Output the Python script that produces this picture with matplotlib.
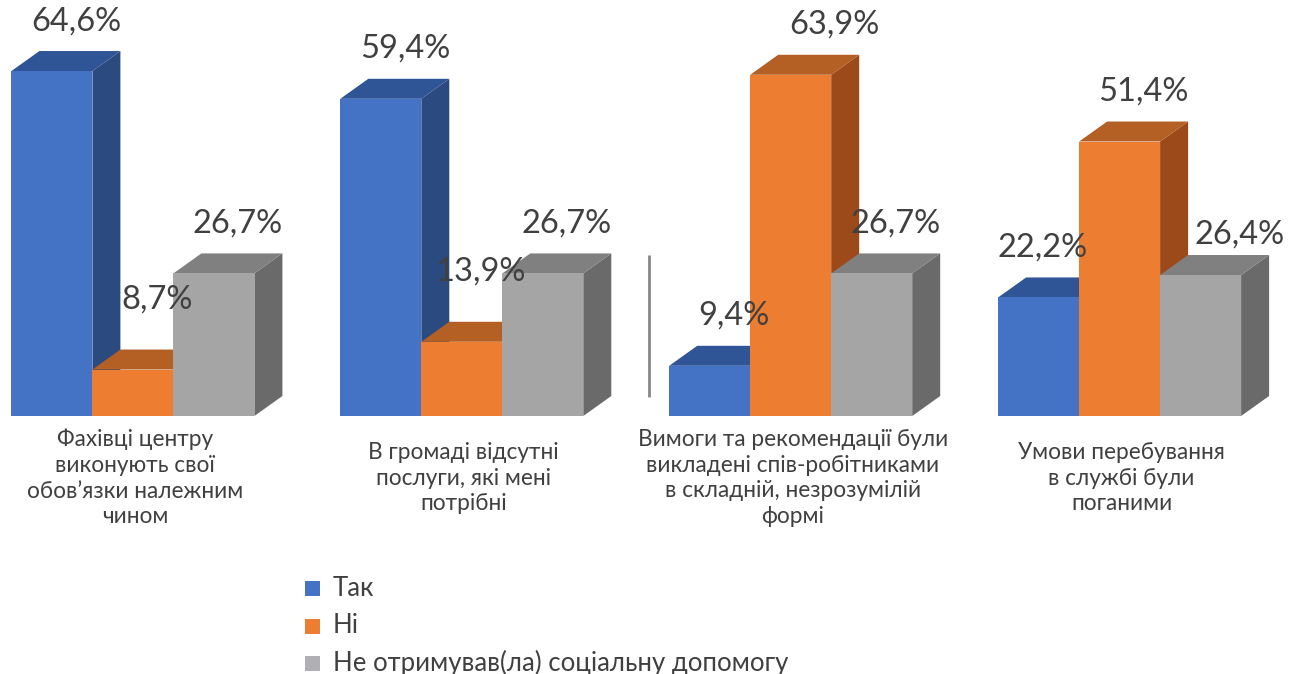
import numpy as np
import matplotlib.pyplot as plt
from matplotlib.patches import Polygon, Rectangle

plt.rcParams['font.family'] = ['Lato', 'DejaVu Sans']

# data
categories = [
    "Фахівці центру\nвиконують свої\nобов’язки належним\nчином",
    "В громаді відсутні\nпослуги, які мені\nпотрібні",
    "Вимоги та рекомендації були\nвикладені спів-робітниками\nв складній, незрозумілій\nформі",
    "Умови перебування\nв службі були\nпоганими",
]
series_names = ["Так", "Ні", "Не отримував(ла) соціальну допомогу"]
tak = [64.6, 59.4, 9.4, 22.2]
ni = [8.7, 13.9, 63.9, 51.4]
ne_otrymuvav = [26.7, 26.7, 26.7, 26.4]

front = ["#4472C4", "#ED7D31", "#A5A5A5"]
top_c = ["#2F5597", "#B45F24", "#808080"]
side_c = ["#2B4A80", "#9C4A1A", "#6A6A6A"]
legend_c = ["#4472C4", "#ED7D31", "#B0B0B4"]
txt = "#404040"

# small manual nudges (pixels) for labels that the source placed off the default spot
nudge = {(1, 0): (0, -20), (1, 1): (-5, -20), (1, 2): (20, 0),
         (0, 3): (-20, 0), (2, 3): (15, 10)}

W, H = 1298, 674
fig = plt.figure(figsize=(W / 100, H / 100), dpi=100)
ax = fig.add_axes([0, 0, 1, 1])

px_x = 328.9   # pixels per group
px_y = 5.34    # pixels per percent
x0 = 132.9
base = 416
ax.set_xlim(-x0 / px_x, (W - x0) / px_x)
ax.set_ylim(-(H - base) / px_y, base / px_y)
ax.axis("off")

w = 81 / px_x
dx = 28 / px_x
dy = 20 / px_y

x = np.arange(len(categories))
for k, vals in enumerate([tak, ni, ne_otrymuvav]):
    for i, v in enumerate(vals):
        xl = x[i] + (k - 1.5) * w
        xr = xl + w
        ax.add_patch(Polygon([(xr, 0), (xr + dx, dy), (xr + dx, v + dy), (xr, v)],
                             closed=True, color=side_c[k], lw=0))
        ax.add_patch(Polygon([(xl, v), (xl + dx, v + dy), (xr + dx, v + dy), (xr, v)],
                             closed=True, color=top_c[k], lw=0))
        ax.add_patch(Rectangle((xl, 0), w, v, color=front[k], lw=0))
        nx, ny = nudge.get((k, i), (0, 0))
        ax.text(xl + w / 2 + (24 + nx) / px_x, v + (50 - ny) / px_y,
                f"{v:.1f}%".replace(".", ","),
                ha="center", va="center", fontsize=23.5, color=txt)

for i, c in enumerate(categories):
    ax.text(x[i] + 2 / px_x, -62 / px_y, c, ha="center", va="center",
            fontsize=16.3, color=txt, linespacing=1.28)

# stray vertical line present in the source image
ax.vlines(516 / px_x, 19 / px_y, 161 / px_y, color="#888888", lw=2)

# legend
for k, name in enumerate(series_names):
    yc = 588 + k * 37.5
    fig.patches.append(Rectangle((305 / W, 1 - (yc + 8) / H), 15 / W, 15 / H,
                                 transform=fig.transFigure, color=legend_c[k], lw=0))
    fig.text(333 / W, 1 - yc / H, name, ha="left", va="center",
             fontsize=18.5, color=txt)

fig.savefig("out.png", dpi=100)
